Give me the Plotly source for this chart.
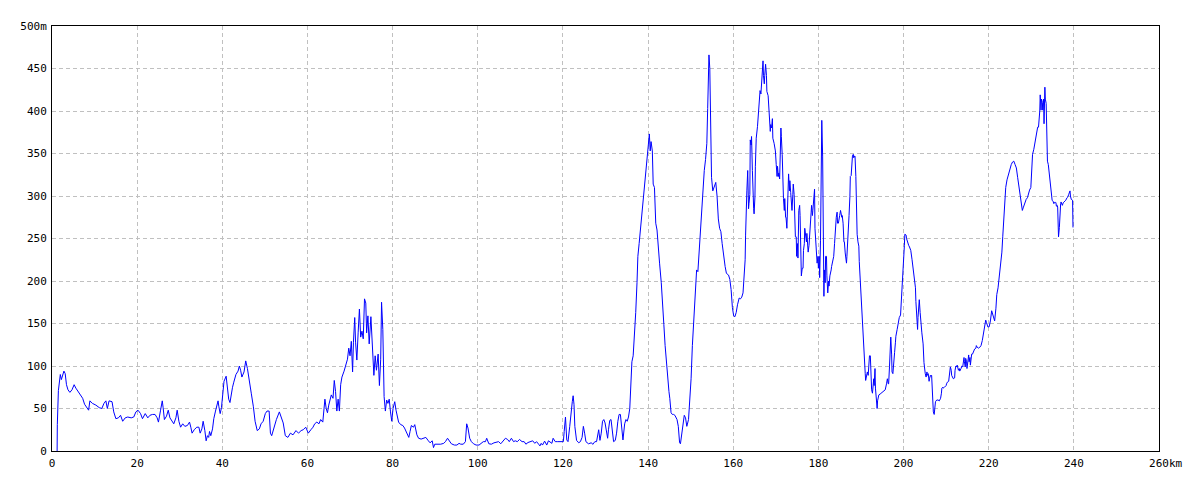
import plotly.graph_objects as go

dist_km = [
    1.2, 1.25, 1.5, 1.7, 1.95, 2.2, 2.5, 2.8, 3.1, 3.4, 3.75, 4.2, 4.7, 5.2, 5.6, 6.25, 6.7, 7.2, 7.65, 8.1,
    8.6, 8.9, 9.5, 10.3, 11.1, 11.7, 12.2, 12.65, 13.0, 13.4, 14.1, 14.5, 15.0, 15.6, 16.1, 16.6, 17.2, 17.8,
    18.6, 19.2, 19.7, 20.2, 20.8, 21.25, 21.9, 22.5, 23.0, 23.6, 24.2, 24.7, 25.0, 25.5, 25.9, 26.1, 26.4,
    26.9, 27.3, 27.7, 28.1, 28.6, 29.1, 29.4, 29.8,
    30.2, 30.7, 31.2, 31.8, 32.3, 32.6, 32.9, 33.4, 34.0, 34.5, 34.8, 35.2, 35.5, 35.9, 36.2, 36.5, 36.8,
    37.0, 37.3, 37.7, 38.0, 38.4, 38.7, 39.0, 39.2, 39.5, 39.8, 40.1, 40.4, 40.9, 41.2, 41.5, 41.8, 42.1,
    42.4, 42.7, 43.2, 43.7, 44.0, 44.3, 44.6, 45.1, 45.5, 45.9, 46.3, 46.8, 47.3, 47.7, 48.2, 48.7, 49.1,
    49.6, 50.1, 50.5, 51.0, 51.3, 51.6, 52.1, 52.7, 53.4, 53.8, 54.3, 54.8, 55.4, 56.0, 56.6, 57.3, 57.9,
    58.5, 59.0, 59.6,
    60.2, 60.8, 61.3, 61.7, 62.2, 62.7, 63.1, 63.6, 64.1, 64.4, 64.7, 65.0, 65.3, 65.6, 66.0, 66.3, 66.6,
    66.9, 67.2, 67.5, 67.8, 68.1, 68.6, 69.1, 69.4, 69.7, 70.0, 70.3, 70.6, 70.8, 71.1, 71.3, 71.6, 71.9,
    72.2, 72.5, 72.8, 73.1, 73.4, 73.7, 73.9, 74.2, 74.5, 74.9, 75.1, 75.4, 75.6, 75.9, 76.2, 76.6, 76.9,
    77.2, 77.4, 77.7, 78.0, 78.3, 78.6, 78.9, 79.2, 79.5, 79.8, 80.1, 80.5, 80.8, 81.1, 81.4, 81.9, 82.4,
    82.8, 83.3, 83.8, 84.1, 84.4, 84.9, 85.2, 85.7, 86.1, 86.7, 87.4, 87.8,
    88.4, 88.8, 89.3, 89.6, 89.9, 90.6, 91.3, 92.0, 92.4, 92.9, 93.4, 93.8, 94.5, 95.1, 95.6, 96.0, 96.6,
    97.1, 97.4, 97.7, 98.1, 98.5, 99.0, 99.6, 100.3, 100.7, 101.3, 101.8, 102.1, 102.6, 103.2, 103.8,
    104.5, 104.9, 105.4, 105.9, 106.5, 107.0, 107.4, 107.9, 108.4, 108.8, 109.3, 109.8, 110.4, 110.9,
    111.3, 111.8, 112.4, 112.9, 113.4, 113.8, 114.3, 114.6, 114.9, 115.2, 115.7, 116.2, 116.6, 117.1,
    117.4, 117.7, 118.2,
    118.8, 119.4, 120.1, 120.3, 120.6, 120.9, 121.2, 121.6, 121.9, 122.2, 122.4, 122.6, 122.8, 123.2,
    123.7, 124.1, 124.5, 124.8, 125.1, 125.4, 126.0, 126.7, 127.0, 127.5, 127.9, 128.2, 128.4, 128.7,
    129.0, 129.3, 129.6, 129.9, 130.2, 130.5, 130.7, 131.0, 131.3, 131.6, 131.9, 132.3, 132.6, 132.9,
    133.2, 133.5, 133.9, 134.1, 134.5, 134.8, 135.1, 135.4, 135.7, 135.9, 136.2, 136.5, 136.8, 137.1,
    137.4, 137.6, 137.9, 138.2, 138.6, 138.9, 139.2, 139.5, 139.8, 140.1, 140.3, 140.5, 140.7, 141.0,
    141.2, 141.5, 141.8, 142.1, 142.4, 142.7, 143.1, 143.4, 143.7, 144.0, 144.3, 144.6, 144.9, 145.1,
    145.4, 145.7, 146.0, 146.3, 146.5, 146.8, 147.1, 147.4, 147.6, 147.9, 148.2, 148.5, 148.8, 149.1,
    149.5, 149.8, 150.1, 150.4, 150.7, 151.1, 151.4, 151.7, 152.0, 152.3,
    152.6, 152.9, 153.2, 153.5, 153.8, 154.0, 154.2, 154.3, 154.5, 154.6, 154.8, 154.9, 155.2, 155.6,
    155.9, 156.2, 156.5, 156.8, 157.1, 157.4, 157.8, 158.1, 158.4, 158.9, 159.2, 159.5, 159.8, 160.1,
    160.4, 160.7, 161.0, 161.4, 161.7, 162.0, 162.3, 162.5, 162.8, 162.9, 163.1, 163.2, 163.4, 163.6,
    163.7, 163.9, 164.0, 164.2, 164.3, 164.5, 164.6, 164.8, 164.9, 165.1, 165.2, 165.4, 165.7, 166.0,
    166.3, 166.5, 166.7, 166.8, 167.0, 167.1, 167.3, 167.4, 167.6, 167.8, 167.9, 168.2, 168.5, 168.7,
    168.8, 169.0, 169.2, 169.3, 169.6, 169.9, 170.1, 170.3, 170.4, 170.6, 170.7, 170.9, 171.0, 171.2,
    171.3, 171.5, 171.7, 171.8, 172.0, 172.1, 172.3, 172.4, 172.6, 172.7, 173.0, 173.2, 173.3, 173.5,
    173.7, 173.8, 174.0, 174.1, 174.3, 174.5, 174.6, 174.8, 174.9, 175.1, 175.2, 175.4, 175.6, 175.7,
    175.9, 176.0, 176.2, 176.4, 176.5, 176.7, 176.8, 177.0, 177.2, 177.3, 177.5, 177.6, 177.8, 178.0,
    178.1, 178.3, 178.4, 178.6, 178.7, 178.9, 179.1, 179.2, 179.4, 179.6, 179.7, 179.9, 180.0, 180.2,
    180.3, 180.5, 180.6, 180.8, 181.0, 181.1, 181.3, 181.4, 181.6, 181.7, 181.9, 182.0, 182.2, 182.4,
    182.5, 182.7, 182.8, 183.0, 183.1, 183.3, 183.6, 183.8, 183.9, 184.1, 184.2, 184.4, 184.5, 184.7,
    184.9, 185.0, 185.2, 185.3, 185.5, 185.6, 185.8, 186.0, 186.1, 186.3, 186.4, 186.6, 186.7, 186.9,
    187.0, 187.2, 187.4, 187.5, 187.7, 187.8, 188.0, 188.2, 188.3, 188.5, 188.6, 188.8,
    188.9, 189.1, 189.3, 189.5, 189.6, 189.8, 190.0, 190.2, 190.4, 190.6, 190.8, 191.0, 191.1, 191.3,
    191.5, 191.7, 191.9, 192.0, 192.2, 192.3, 192.5, 192.7, 192.8, 193.0, 193.1, 193.3, 193.4, 193.6,
    193.8, 193.9, 194.2, 194.5, 194.8, 195.1, 195.4, 195.7, 196.0, 196.2, 196.4, 196.5, 196.7, 196.8,
    197.0, 197.2, 197.3, 197.5, 197.6, 197.8, 197.9, 198.1, 198.2, 198.5, 198.8, 199.0, 199.3, 199.5,
    199.8, 200.0, 200.2, 200.3, 200.6, 200.7, 200.9, 201.2, 201.4, 201.7, 202.0, 202.3, 202.5, 202.8,
    202.9, 203.1, 203.3, 203.4, 203.6, 203.7, 203.9, 204.1, 204.3, 204.6, 204.8, 205.1, 205.3, 205.5,
    205.6, 205.8, 206.0, 206.1, 206.3, 206.4, 206.6, 206.7, 206.9, 207.0, 207.2, 207.3, 207.5, 207.8,
    208.1, 208.4, 208.7, 208.9, 209.0, 209.2, 209.3, 209.6, 210.0, 210.1, 210.3, 210.6, 210.7, 210.9,
    211.0, 211.2, 211.3, 211.7, 212.0, 212.1, 212.3, 212.4, 212.6, 212.8, 212.9, 213.1, 213.2, 213.5,
    213.7, 213.9, 214.0, 214.2, 214.3, 214.5, 214.6, 214.8, 214.9, 215.1, 215.3, 215.4, 215.6, 215.7,
    215.9, 216.0, 216.2, 216.4, 216.7, 217.0, 217.1, 217.3, 217.6, 217.9, 218.2, 218.5, 218.8, 219.0,
    219.3, 219.5, 219.8, 220.1,
    220.4, 220.7, 221.0, 221.4, 221.7, 221.9, 222.2, 222.4, 222.6, 222.9, 223.1, 223.3, 223.6, 223.8,
    224.0, 224.3, 224.6, 224.9, 225.3, 225.6, 225.9, 226.2, 226.5, 226.8, 227.1, 227.5, 227.7, 227.9,
    228.1, 228.4, 228.6, 228.8, 229.1, 229.3, 229.6, 229.9, 230.1, 230.3, 230.6, 230.8, 231.0, 231.3,
    231.5, 231.7, 232.0, 232.1, 232.3, 232.4, 232.6, 232.7, 232.9, 233.0, 233.2, 233.3, 233.5, 233.6,
    233.8, 234.0, 234.2, 234.4, 234.7, 234.9, 235.1, 235.3, 235.6, 235.8, 235.9, 236.1, 236.2, 236.4,
    236.6, 236.7, 236.9, 237.0, 237.2, 237.3, 237.5, 237.7, 237.9, 238.1, 238.4, 238.6, 238.8, 239.1,
    239.2, 239.4, 239.7, 239.8,
]

elev_m = [
    0, 31, 71, 81, 90, 84, 88, 94, 91, 78, 72, 69, 72, 78, 74, 69, 66, 62, 55, 51,
    48, 59, 56, 54, 51, 50, 56, 59, 50, 59, 58, 46, 38, 39, 42, 35, 39, 40,
    39, 40, 46, 48, 44, 38, 44, 39, 42, 43, 43, 39, 34, 48, 59, 51, 37,
    41, 48, 39, 36, 32, 39, 48, 35,
    28, 32, 29, 30, 34, 28, 21, 25, 28, 28, 21, 26, 35, 24, 12, 18, 16,
    23, 18, 26, 38, 47, 52, 59, 52, 44, 51, 65, 82, 88, 73, 61, 57, 68,
    75, 81, 90, 94, 100, 95, 87, 93, 106, 97, 81, 68, 52, 35, 24, 26, 32,
    35, 44, 47, 47, 21, 18, 28, 37, 46, 39, 33, 18, 16, 21, 19, 24, 21,
    24, 25, 28,
    21, 25, 28, 32, 34, 32, 37, 34, 61, 50, 45, 54, 60, 66, 62, 83, 70,
    47, 61, 47, 78, 87, 94, 103, 108, 121, 112, 129, 93, 128, 157, 128, 107, 139,
    167, 134, 141, 132, 179, 174, 139, 159, 126, 158, 137, 103, 89, 112, 95, 114, 77,
    108, 175, 143, 64, 47, 60, 56, 61, 46, 35, 50, 58, 48, 42, 34, 31, 30,
    27, 21, 16, 23, 30, 28, 31, 19, 15, 14, 15, 16,
    12, 9.6, 12, 4, 8, 8, 8, 9, 11, 15, 11, 8.5, 7, 7, 9, 8, 8,
    11, 32, 27, 15, 11, 8.5, 7, 7, 8.5, 11, 11, 15, 8.5, 8, 9.6,
    11, 11, 8.5, 11, 15, 13.6, 11, 15, 11, 12, 11, 13.6, 11, 11,
    8, 10, 11.6, 12, 9, 11, 8, 6, 9, 7, 11.6, 7, 12, 10,
    9, 15, 11,
    11, 11, 11, 23, 40, 13, 11, 29, 49, 58, 65, 55, 29, 12.5,
    9.7, 11, 16, 29, 21, 11, 8.5, 9.7, 7.8, 11, 11, 20, 25, 12.5,
    21, 35, 37, 33, 24, 15, 25, 36, 37, 27, 11, 12.5, 21, 35,
    43, 43, 25, 13, 32, 37, 35, 40, 50, 81, 105, 112, 135, 163,
    198, 229, 244, 260, 276, 294, 310, 330, 345, 357, 373, 353, 364, 353,
    314, 310, 268, 260, 237, 221, 198, 167, 149, 124, 103, 81, 70, 62,
    45, 43, 43, 42, 39, 37, 29, 9.7, 8.5, 21, 35, 42, 39, 29,
    37, 60, 85, 124, 149, 190, 213, 211, 234, 264,
    289, 310, 330, 343, 362, 403, 450, 466, 450, 403, 374, 322, 306, 312,
    316, 300, 273, 262, 258, 244, 225, 217, 209, 207, 202, 190, 169, 159,
    158, 163, 172, 180, 179, 181, 186, 202, 225, 254, 302, 306, 330, 285,
    291, 302, 366, 360, 370, 330, 294, 285, 279, 299, 335, 368, 382, 407,
    424, 420, 442, 452, 459, 442, 432, 442, 455, 442, 423, 418, 399, 376,
    384, 380, 391, 368, 362, 353, 337, 323, 335, 323, 327, 320, 339, 380,
    370, 349, 299, 297, 283, 297, 275, 275, 262, 283, 326, 306, 318, 304,
    291, 283, 302, 314, 302, 275, 252, 252, 229, 244, 227, 283, 289, 277,
    242, 206, 215, 215, 236, 244, 262, 256, 246, 256, 244, 234, 242, 266,
    275, 281, 289, 277, 283, 293, 308, 262, 248, 225, 221, 229, 215, 229,
    204, 248, 341, 389, 347, 244, 182, 213, 198, 229, 229, 206, 186, 200,
    194, 206, 211, 213, 217, 221, 229, 244, 254, 273, 275, 281, 268, 268,
    272, 277, 283, 277, 275, 277, 268, 246, 246, 233, 227, 221, 229, 244,
    258, 277, 299, 323, 324, 341, 347, 349, 345, 347, 347, 323,
    299, 255, 246, 241, 223, 203, 184, 163, 134, 120, 104, 91, 83, 91,
    93, 89, 100, 112, 112, 91, 72, 68, 79, 85, 77, 97, 74, 55,
    50, 59, 66, 67, 68, 69, 71, 72, 79, 85, 79, 79, 99, 126,
    134, 114, 93, 91, 100, 108, 116, 128, 135, 143, 153, 157, 160, 176,
    200, 225, 242, 255, 254, 250, 246, 242, 240, 236, 225, 213, 203, 192,
    176, 153, 143, 157, 172, 178, 163, 143, 139, 126, 104, 91, 87, 93,
    89, 91, 82, 85, 89, 88, 89, 75, 56, 46, 43, 50, 58, 60,
    60, 59, 62, 68, 74, 75, 74, 75, 77, 79, 81, 82, 87, 93,
    99, 95, 89, 85, 86, 95, 100, 99, 101, 97, 95, 97, 94, 97,
    100, 99, 107, 110, 105, 99, 109, 105, 97, 107, 113, 105, 110, 101,
    109, 114, 114, 117, 120, 121, 124, 122, 121, 122, 124, 130, 141, 149,
    154, 151, 146, 146,
    153, 165, 159, 153, 168, 184, 192, 201, 211, 223, 234, 252, 279, 287,
    310, 319, 325, 330, 337, 340, 341, 337, 333, 322, 310, 296, 288, 283,
    286, 291, 293, 296, 298, 302, 307, 310, 325, 349, 355, 360, 366, 376,
    381, 381, 400, 419, 401, 414, 410, 401, 414, 385, 428, 414, 409, 372,
    341, 337, 327, 316, 302, 295, 294, 291, 293, 292, 288, 289, 287, 252,
    263, 283, 291, 293, 291, 289, 292, 293, 294, 295, 298, 299, 302, 306,
    300, 296, 295, 263,
]

x_ticks = [0, 20, 40, 60, 80, 100, 120, 140, 160, 180, 200, 220, 240, 260]
x_ticktext = ["0", "20", "40", "60", "80", "100", "120", "140", "160", "180", "200", "220", "240", "\u00a0\u00a0260km"]
y_ticks = [0, 50, 100, 150, 200, 250, 300, 350, 400, 450, 500]
y_ticktext = ["0", "50", "100", "150", "200", "250", "300", "350", "400", "450", "500m"]

fig = go.Figure()
fig.add_trace(go.Scatter(
    x=dist_km, y=elev_m, mode="lines",
    line=dict(color="#0000ff", width=1),
    hoverinfo="skip", showlegend=False,
))

tick_font = dict(family="DejaVu Sans Mono", size=11, color="#000000")
fig.update_layout(
    width=1200, height=480,
    margin=dict(l=42, r=49, t=13, b=37),
    paper_bgcolor="#ffffff", plot_bgcolor="#ffffff",
    xaxis=dict(
        range=[0, 260], tickmode="array", tickvals=x_ticks, ticktext=x_ticktext,
        showgrid=True, gridcolor="#c0c0c0", griddash="4px,3px", gridwidth=1,
        showline=True, linecolor="#000000", linewidth=1, mirror=True,
        zeroline=False, ticks="", tickfont=tick_font, ticklabelstandoff=2,
    ),
    yaxis=dict(
        range=[0, 500], tickmode="array", tickvals=y_ticks, ticktext=y_ticktext,
        showgrid=True, gridcolor="#c0c0c0", griddash="4px,3px", gridwidth=1,
        showline=True, linecolor="#000000", linewidth=1, mirror=True,
        zeroline=False, ticks="", tickfont=tick_font, ticklabelstandoff=2,
    ),
)

fig.write_html("out.html")
